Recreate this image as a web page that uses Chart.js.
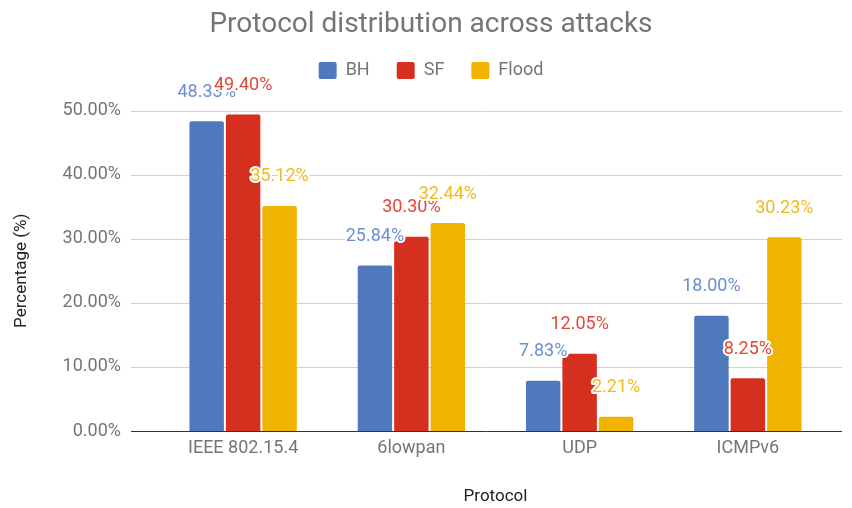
<!DOCTYPE html>
<html>
<head>
<meta charset="utf-8">
<script src="https://cdn.jsdelivr.net/npm/chart.js@4.4.1/dist/chart.umd.min.js"></script>
<style>
  html, body { margin: 0; padding: 0; background: #fff; }
  #wrap { width: 852px; height: 508px; position: relative; }
</style>
</head>
<body>
<div id="wrap"><canvas id="protoChart"></canvas></div>
<script>
    // --- DATA ---
    const protocols = ['IEEE 802.15.4', '6lowpan', 'UDP', 'ICMPv6'];
    const bhValues = [48.33, 25.84, 7.83, 18.00];
    const sfValues = [49.40, 30.30, 12.05, 8.25];
    const floodValues = [35.12, 32.44, 2.21, 30.23];
    const yTicks = [0, 10, 20, 30, 40, 50];

    const FONT = 'Roboto, "Open Sans", sans-serif';
    const GREY = '#757575';

    // value labels above each bar, with a white halo
    const valueLabels = {
        id: 'valueLabels',
        afterDatasetsDraw(chart) {
            const ctx = chart.ctx;
            ctx.save();
            ctx.font = '18px ' + FONT;
            ctx.textAlign = 'center';
            ctx.textBaseline = 'middle';
            ctx.lineJoin = 'round';
            chart.data.datasets.forEach((ds, i) => {
                const meta = chart.getDatasetMeta(i);
                meta.data.forEach((bar, j) => {
                    const txt = ds.data[j].toFixed(2) + '%';
                    const y = bar.y - 29;
                    ctx.strokeStyle = '#fff';
                    ctx.lineWidth = 4;
                    ctx.strokeText(txt, bar.x, y);
                    ctx.fillStyle = ds.labelColor;
                    ctx.fillText(txt, bar.x, y);
                });
            });
            ctx.restore();
        }
    };

    // horizontal grid lines run a bit wider than the bar area
    const wideGrid = {
        id: 'wideGrid',
        beforeDatasetsDraw(chart) {
            const ctx = chart.ctx;
            const y = chart.scales.y;
            ctx.save();
            yTicks.forEach(v => {
                const py = Math.round(y.getPixelForValue(v)) + 0.5;
                ctx.beginPath();
                ctx.moveTo(131, py);
                ctx.lineTo(842, py);
                ctx.strokeStyle = v === 0 ? '#333' : '#d0d0d0';
                ctx.lineWidth = 1;
                ctx.stroke();
            });
            ctx.restore();
        }
    };

    // empty axes, only used as spacers around the plot
    const spacer = (pos, size) => ({
        position: pos,
        display: true,
        grid: { display: false, drawTicks: false },
        border: { display: false },
        ticks: { display: false },
        afterFit(scale) {
            if (pos === 'top') scale.height = size; else scale.width = size;
        }
    });

    function initChart() {
        const ctx = document.getElementById('protoChart').getContext('2d');
        new Chart(ctx, {
            type: 'bar',
            data: {
                labels: protocols,
                datasets: [
                    { label: 'BH', data: bhValues, backgroundColor: '#4f78bd', labelColor: '#6a8fd2' },
                    { label: 'SF', data: sfValues, backgroundColor: '#d42f1f', labelColor: '#e2473a' },
                    { label: 'Flood', data: floodValues, backgroundColor: '#f0b400', labelColor: '#f4ba1c' }
                ]
            },
            options: {
                responsive: true,
                maintainAspectRatio: false,
                animation: false,
                layout: { padding: { left: 10, right: 0, top: 0, bottom: 0 } },
                datasets: {
                    bar: {
                        categoryPercentage: 0.65,
                        barPercentage: 0.945,
                        borderRadius: { topLeft: 2, topRight: 2 },
                        borderSkipped: 'bottom'
                    }
                },
                scales: {
                    x: {
                        grid: { display: false, drawTicks: false },
                        border: { display: false },
                        ticks: { color: GREY, font: { size: 18, family: FONT }, padding: 7 },
                        title: {
                            display: true, text: 'Protocol', color: '#222',
                            font: { size: 17, family: FONT }, padding: { top: 0, bottom: 1 }
                        },
                        afterFit(scale) { scale.height = 77; }
                    },
                    y: {
                        min: 0,
                        max: 50,
                        grid: { display: false, drawTicks: false },
                        border: { display: false },
                        afterBuildTicks(scale) { scale.ticks = yTicks.map(v => ({ value: v })); },
                        ticks: {
                            color: GREY,
                            font: { size: 18, family: FONT },
                            padding: 38,
                            callback: v => v.toFixed(2) + '%'
                        },
                        title: {
                            display: true, text: 'Percentage (%)', color: '#222',
                            font: { size: 17, family: FONT }, padding: { top: 2, bottom: 0 }
                        },
                        afterFit(scale) { scale.width = 149; }
                    },
                    yRight: spacer('right', 20),
                    xTop: spacer('top', 21)
                },
                plugins: {
                    title: {
                        display: true,
                        text: 'Protocol distribution across attacks',
                        color: GREY,
                        font: { size: 28, family: FONT, weight: 'normal' },
                        padding: { top: 8, bottom: -7 }
                    },
                    legend: {
                        labels: {
                            color: GREY,
                            font: { size: 18, family: FONT },
                            boxWidth: 18,
                            boxHeight: 17,
                            useBorderRadius: true,
                            borderRadius: 2,
                            padding: 27
                        }
                    },
                    tooltip: { enabled: false }
                }
            },
            plugins: [wideGrid, valueLabels]
        });
    }

    window.onload = initChart;
</script>
</body>
</html>
